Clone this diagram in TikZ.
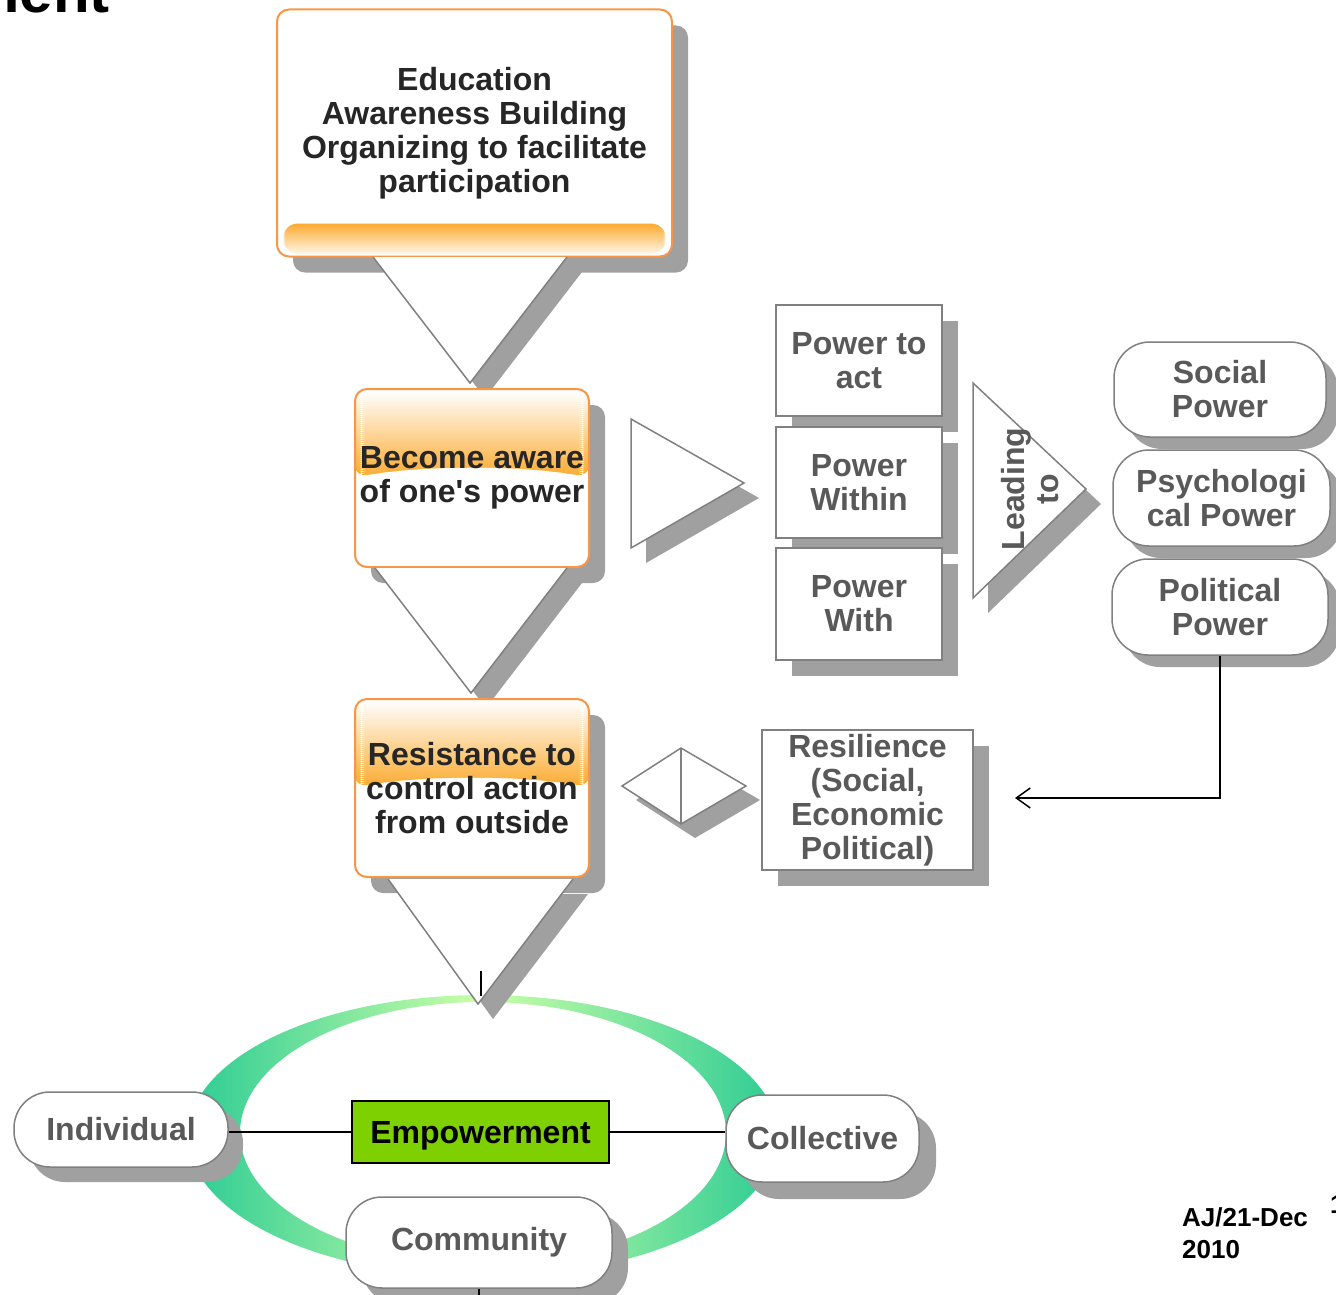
\documentclass[tikz,border=0pt]{standalone}
\usepackage{fontspec}
\setmainfont{Liberation Sans}[Ligatures=TeXOff]
\usetikzlibrary{shadows,arrows.meta}

\definecolor{boxorange}{RGB}{247,150,70}
\definecolor{bandorange}{RGB}{252,172,50}
\definecolor{boxgray}{RGB}{128,128,128}
\definecolor{graytext}{RGB}{89,89,89}
\definecolor{darktext}{RGB}{38,38,38}
\definecolor{shadowgray}{RGB}{160,160,160}
\definecolor{ringteal}{RGB}{45,204,148}
\definecolor{ringlight}{RGB}{204,255,168}
\definecolor{empgreen}{RGB}{127,208,0}

\begin{document}
\begin{tikzpicture}[x=1pt,y=-1pt,
    bigtxt/.style={font=\bfseries\fontsize{32}{34}\selectfont},
    shadowed/.style={general shadow={shadow xshift=#1,shadow yshift=-#1,fill=shadowgray}},
    orangebox/.style={draw=boxorange,line width=2pt,fill=white,rounded corners=12pt,
        text=darktext,align=center,inner sep=0pt,bigtxt},
    graybox/.style={draw=boxgray,line width=1.5pt,fill=white,text=graytext,
        align=center,inner sep=0pt,bigtxt},
    pill/.style={graybox,rounded corners=36pt},
    tri/.style={draw=boxgray,line width=1.5pt},
    topband/.style={path picture={
        \begin{scope}
        \clip (path picture bounding box.north west)
          -- ([yshift=-88pt]path picture bounding box.north west)
          .. controls ([xshift=70pt,yshift=-76pt]path picture bounding box.north west)
          and ([xshift=-70pt,yshift=-76pt]path picture bounding box.north east)
          .. ([yshift=-88pt]path picture bounding box.north east)
          -- (path picture bounding box.north east) -- cycle;
        \foreach \i in {0,...,43}{
            \pgfmathtruncatemacro\pct{\i*100/43}
            \fill[bandorange!\pct!white] ([yshift={-\i*2pt}]path picture bounding box.north west)
                rectangle ([yshift={-\i*2pt-3pt}]path picture bounding box.north east);
        }
        \end{scope}}},
    bottomband/.style={path picture={
        \begin{scope}
        \clip[rounded corners=15pt] ([xshift=6pt,yshift=3pt]path picture bounding box.south west)
          rectangle ([xshift=-6pt,yshift=33pt]path picture bounding box.south east);
        \foreach \i in {0,...,14}{
            \pgfmathtruncatemacro\pct{100-\i*6}
            \fill[bandorange!\pct!white] ([yshift={33pt-\i*2pt}]path picture bounding box.south west)
                rectangle ([yshift={30pt-\i*2pt}]path picture bounding box.south east);
        }
        \end{scope}}}
]
    \useasboundingbox (0,0) rectangle (1336,1295);

    \node[anchor=base east,inner sep=0pt,font=\bfseries\fontsize{60}{60}\selectfont] (title) at (110,13) {ment};

    % left column
    \node[orangebox,bottomband,shadowed=16pt,minimum width=395pt,minimum height=247pt] (edu) at (474.5,133)
        {Education\\Awareness Building\\Organizing to facilitate\\participation};
    \fill[shadowgray,shift={(15,15)}] (373,257) -- (470,383) -- (567,257) -- cycle;
    \fill[white] (373,257) -- (470,383) -- (567,257) -- cycle;
    \draw[tri] (373,257) -- (470,383) -- (567,257);

    \node[orangebox,topband,shadowed=16pt,minimum width=234pt,minimum height=178pt] (aware) at (472,478)
        {Become aware\\of one's power};
    \fill[shadowgray,shift={(15,15)}] (375,568) -- (471,693) -- (567,568) -- cycle;
    \fill[white] (375,568) -- (471,693) -- (567,568) -- cycle;
    \draw[tri] (375,568) -- (471,693) -- (567,568);

    \node[orangebox,topband,shadowed=16pt,minimum width=234pt,minimum height=178pt] (resist) at (472,788)
        {Resistance to\\control action\\from outside};

    % ring
    \shade[even odd rule,left color=ringteal,right color=ringteal,middle color=ringlight]
        (483,1136) ellipse [x radius=295,y radius=141]
        (483,1133) ellipse [x radius=243,y radius=131];

    \fill[shadowgray,shift={(15,15)}] (388,879) -- (478,1004) -- (573,879) -- cycle;
    \fill[white] (388,879) -- (478,1004) -- (573,879) -- cycle;
    \draw[tri] (388,879) -- (478,1004) -- (573,879);
    \coordinate (tickA) at (481,971);
    \coordinate (tickB) at (481,996);
    \draw[line width=2pt] (tickA) -- (tickB);

    \node[pill,shadowed=15pt,minimum width=214pt,minimum height=75pt] (ind) at (121,1129.5) {Individual};
    \node[pill,shadowed=17pt,minimum width=193pt,minimum height=87pt] (col) at (822.5,1138.5) {Collective};
    \node[pill,shadowed=16pt,minimum width=266pt,minimum height=91pt] (com) at (479,1242.5) {Community};
    \node[draw=black,line width=2pt,fill=empgreen,text=black,bigtxt,inner sep=0pt,text depth=0pt,
        minimum width=257pt,minimum height=62pt] (emp) at (480.5,1132) {Empowerment};
    \draw[line width=2.5pt] (emp.west) -- (emp.west -| ind.east);
    \draw[line width=2.5pt] (emp.east) -- (emp.east -| col.west);
    \draw[line width=2pt] (com.south) -- ++(0,10);

    % right part
    \fill[shadowgray,shift={(15,15)}] (631,419) -- (744,483) -- (631,548) -- cycle;
    \draw[tri,fill=white] (631,419) -- (744,483) -- (631,548) -- cycle;

    \node[graybox,shadowed=16pt,minimum width=166pt,minimum height=111pt] (act) at (859,360.5) {Power to\\act};
    \node[graybox,shadowed=16pt,minimum width=166pt,minimum height=111pt] (within) at (859,482.5) {Power\\Within};
    \node[graybox,shadowed=16pt,minimum width=166pt,minimum height=112pt] (with) at (859,604) {Power\\With};

    \fill[shadowgray,shift={(15,15)}] (973,383) -- (1086,489) -- (973,598) -- cycle;
    \draw[tri,fill=white] (973,383) -- (1086,489) -- (973,598) -- cycle;
    \node[bigtxt,text=graytext,rotate=90,align=center,inner sep=0pt] (lead) at (1030,489) {Leading\\to};

    \node[pill,shadowed=12pt,minimum width=212pt,minimum height=95pt] (soc) at (1220,389.5) {Social\\Power};
    \node[pill,shadowed=12pt,minimum width=217pt,minimum height=96pt] (psy) at (1221.5,498) {Psychologi\\cal Power};
    \node[pill,shadowed=12pt,minimum width=216pt,minimum height=96pt] (pol) at (1220,607) {Political\\Power};

    \coordinate (resend) at (1015,798);
    \draw[line width=1.5pt,-{Straight Barb[length=14pt,width=20pt]}] (pol.south) |- (resend);

    \fill[shadowgray,shift={(14,14)}] (622,786) -- (681,748) -- (746,786) -- (681,824) -- cycle;
    \draw[tri,fill=white] (622,786) -- (681,748) -- (746,786) -- (681,824) -- cycle;
    \draw[tri] (681,748) -- (681,824);

    \node[graybox,shadowed=16pt,minimum width=211pt,minimum height=140pt] (resil) at (867.5,800)
        {Resilience\\(Social,\\Economic\\Political)};

    \node[anchor=west,align=left,inner sep=0pt,font=\bfseries\fontsize{26}{32}\selectfont] (date) at (1182,1233)
        {AJ/21-Dec\\2010};
    \node[anchor=base west,inner sep=0pt,font=\bfseries\fontsize{26}{32}\selectfont] (pagenum) at (1330,1213) {1};

\end{tikzpicture}
\end{document}
